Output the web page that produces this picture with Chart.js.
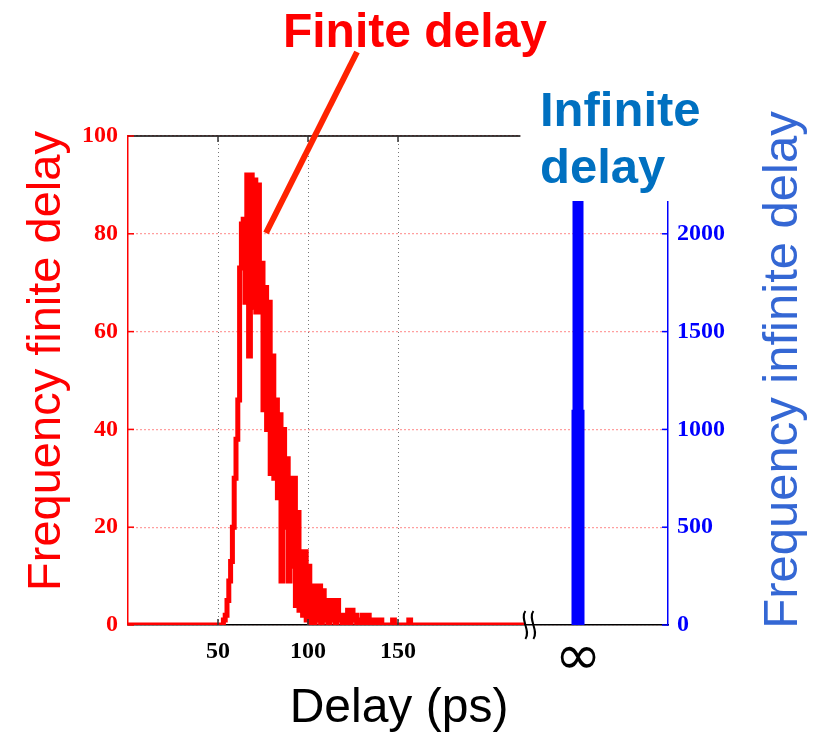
<!DOCTYPE html>
<html>
<head>
<meta charset="utf-8">
<script src="https://cdn.jsdelivr.net/npm/chart.js@4"></script>
<style>
  html, body { margin: 0; padding: 0; background: #fff; }
</style>
</head>
<body>
<canvas id="delayChart" width="823" height="735"></canvas>
<script>
// Histogram of finite delays (ps) and their counts
const finiteDelay = [0,
  52, 53, 54, 55, 56, 57, 58, 59, 60, 61,
  62, 63, 64, 65, 66, 67, 68, 69, 70, 71,
  72, 73, 74, 75, 76, 77, 78, 79, 80, 81,
  82, 83, 84, 85, 86, 87, 88, 89, 90, 91,
  92, 93, 94, 95, 96, 97, 98, 99, 100, 101,
  102, 103, 104, 105, 106, 107, 108, 109, 110, 111,
  112, 113, 114, 115, 116, 117, 118, 119, 120, 121,
  122, 123, 124, 125, 126, 127, 128, 129, 130, 131,
  132, 133, 134, 135, 136, 137, 138, 139, 140, 141,
  147, 148, 156, 157, 220];
const finiteFreq = [0,
  0, 1, 2, 5, 9, 13, 20, 30, 38, 46,
  73, 82, 83, 66, 92, 55, 92, 65, 91, 64,
  90, 64, 74, 44, 69, 40, 66, 31, 55, 30,
  46, 26, 43, 9, 40, 20, 34, 9, 30, 12,
  30, 4, 23, 3, 15, 2, 15, 1, 12, 0,
  8, 0, 8, 1, 8, 0, 7, 1, 5, 0,
  5, 1, 5, 0, 5, 1, 2, 0, 2, 0,
  3, 0, 3, 1, 2, 0, 1, 0, 2, 0,
  1, 2, 0, 1, 0, 1, 0, 1, 1, 0,
  1, 0, 1, 0, 0];

// Infinite delay bin, drawn after the axis break
const infiniteDelay = 250;
const infiniteFreq = [2300, 1100];
const breakAt = 223;

// Tick values
const xTicks = [50, 100, 150, infiniteDelay];
const yTicks = [0, 20, 40, 60, 80, 100];
const y1Ticks = [0, 500, 1000, 1500, 2000];

const serifBold = { family: "'Liberation Serif', 'Times New Roman', serif", size: 24, weight: 'bold' };

// Extra drawing: frame top, inner ticks, break mark, annotations
const extras = {
  id: 'extras',
  afterDraw(chart) {
    const ctx = chart.ctx;
    const a = chart.chartArea;
    const sx = chart.scales.x, sy = chart.scales.y, sy1 = chart.scales.y1;
    ctx.save();

    // top frame line
    ctx.strokeStyle = '#000';
    ctx.lineWidth = 1.5;
    ctx.beginPath();
    ctx.moveTo(a.left, a.top);
    ctx.lineTo(a.right, a.top);
    ctx.stroke();

    // inward tick marks
    ctx.lineWidth = 1.5;
    ctx.strokeStyle = '#333';
    [50, 100, 150].forEach(v => {
      const px = sx.getPixelForValue(v);
      ctx.beginPath();
      ctx.moveTo(px, a.bottom); ctx.lineTo(px, a.bottom - 6);
      ctx.moveTo(px, a.top); ctx.lineTo(px, a.top + 6);
      ctx.stroke();
    });
    ctx.strokeStyle = '#ff0000';
    yTicks.forEach(v => {
      const py = sy.getPixelForValue(v);
      ctx.beginPath(); ctx.moveTo(a.left, py); ctx.lineTo(a.left + 6, py); ctx.stroke();
    });
    ctx.strokeStyle = '#0000ff';
    y1Ticks.forEach(v => {
      const py = sy1.getPixelForValue(v);
      ctx.beginPath(); ctx.moveTo(a.right, py); ctx.lineTo(a.right - 6, py); ctx.stroke();
    });

    // axis break mark
    const bx = sx.getPixelForValue(breakAt);
    ctx.strokeStyle = '#000';
    ctx.lineWidth = 2;
    [-4, 4].forEach(dx => {
      const cx = bx + dx;
      ctx.beginPath();
      ctx.moveTo(cx, a.bottom - 14);
      ctx.bezierCurveTo(cx - 6, a.bottom - 6, cx + 6, a.bottom + 6, cx, a.bottom + 14);
      ctx.stroke();
    });

    // white box behind the "Infinite delay" label
    ctx.fillStyle = '#fff';
    ctx.fillRect(bx - 9, 0, 190, 201);

    // labels
    ctx.textAlign = 'center';
    ctx.textBaseline = 'alphabetic';
    ctx.fillStyle = '#ff0000';
    ctx.font = "bold 48px 'Liberation Sans', Arial, sans-serif";
    ctx.fillText('Finite delay', 415, 47);

    ctx.textAlign = 'left';
    ctx.fillStyle = '#0070c0';
    ctx.font = "bold 49px 'Liberation Sans', Arial, sans-serif";
    ctx.fillText('Infinite', 540, 126);
    ctx.fillText('delay', 540, 183);

    // pointer line
    ctx.strokeStyle = '#ff2200';
    ctx.lineWidth = 6;
    ctx.beginPath();
    ctx.moveTo(266, 233);
    ctx.lineTo(357, 52);
    ctx.stroke();

    // axis titles
    ctx.textAlign = 'center';
    ctx.textBaseline = 'middle';
    ctx.font = "47px 'Liberation Sans', Arial, sans-serif";
    ctx.fillStyle = '#ff0000';
    ctx.save();
    ctx.translate(47, 361);
    ctx.rotate(-Math.PI / 2);
    ctx.fillText('Frequency finite delay', 0, 0);
    ctx.restore();

    ctx.font = "49px 'Liberation Sans', Arial, sans-serif";
    ctx.fillStyle = '#3467d4';
    ctx.save();
    ctx.translate(783, 370);
    ctx.rotate(-Math.PI / 2);
    ctx.fillText('Frequency infinite delay', 0, 0);
    ctx.restore();

    ctx.font = "48px 'Liberation Sans', Arial, sans-serif";
    ctx.textBaseline = 'alphabetic';
    ctx.fillStyle = '#000';
    ctx.fillText('Delay (ps)', 399, 722);

    ctx.restore();
  }
};

new Chart(document.getElementById('delayChart'), {
  type: 'line',
  data: {
    datasets: [
      {
        label: 'Finite delay',
        data: finiteDelay.map((d, i) => ({ x: d, y: finiteFreq[i] })),
        yAxisID: 'y',
        borderColor: '#ff0000',
        borderWidth: 5,
        stepped: true,
        pointRadius: 0
      },
      {
        label: 'Infinite delay',
        data: [{ x: infiniteDelay, y: 0 }, { x: infiniteDelay, y: infiniteFreq[0] }],
        yAxisID: 'y1',
        borderColor: '#0000ff',
        borderWidth: 11,
        borderCapStyle: 'butt',
        pointRadius: 0
      },
      {
        label: 'Infinite delay (lower)',
        data: [{ x: infiniteDelay, y: 0 }, { x: infiniteDelay, y: infiniteFreq[1] }],
        yAxisID: 'y1',
        borderColor: '#0000ff',
        borderWidth: 13,
        borderCapStyle: 'butt',
        pointRadius: 0
      }
    ]
  },
  options: {
    responsive: false,
    animation: false,
    layout: { padding: { top: 136, left: 0, right: 0, bottom: 0 } },
    plugins: { legend: { display: false }, tooltip: { enabled: false } },
    scales: {
      x: {
        type: 'linear',
        min: 0,
        max: 300,
        afterBuildTicks: s => { s.ticks = xTicks.map(v => ({ value: v })); },
        afterFit: s => { s.height = 110; },
        grid: {
          drawTicks: false,
          lineWidth: 1,
          color: ['#777', '#777', '#777', 'rgba(0,0,0,0)']
        },
        border: { color: '#000', width: 1.5, dash: [1, 3] },
        ticks: {
          padding: 12,
          color: '#000',
          maxRotation: 0,
          autoSkip: false,
          callback: v => v === infiniteDelay ? '\u221E' : String(v),
          font: c => (c.tick && c.tick.value === infiniteDelay)
            ? { family: "'DejaVu Sans', sans-serif", size: 56, lineHeight: 0.8 }
            : serifBold
        }
      },
      y: {
        position: 'left',
        min: 0,
        max: 100,
        afterBuildTicks: s => { s.ticks = yTicks.map(v => ({ value: v })); },
        afterFit: s => { s.width = 128; },
        grid: {
          drawTicks: false,
          lineWidth: 1.2,
          color: '#ff4040'
        },
        border: { color: '#ff0000', width: 1.5, dash: [1, 3] },
        ticks: { padding: 10, color: '#ff0000', font: serifBold, callback: v => String(v) }
      },
      y1: {
        position: 'right',
        min: 0,
        max: 2500,
        afterBuildTicks: s => { s.ticks = y1Ticks.map(v => ({ value: v })); },
        afterFit: s => { s.width = 155; },
        grid: { drawOnChartArea: false, drawTicks: false },
        border: { color: '#0000ff', width: 1.5 },
        ticks: { padding: 9, color: '#0000ff', font: serifBold, callback: v => String(v) }
      }
    }
  },
  plugins: [extras]
});
</script>
</body>
</html>
